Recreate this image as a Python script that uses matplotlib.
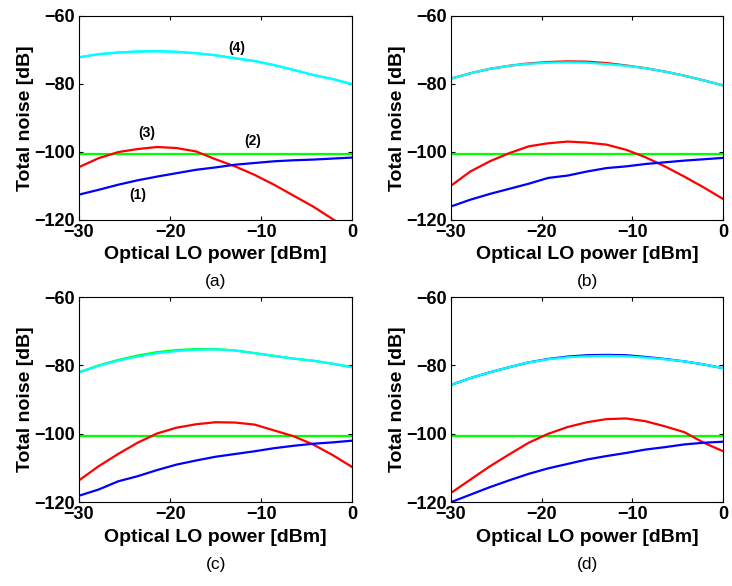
import matplotlib
matplotlib.use('Agg')
import matplotlib.pyplot as plt

plt.rcParams['font.family'] = ['Liberation Sans', 'DejaVu Sans']

# LO power points (dBm)
lo_power = [-30, -27.86, -25.71, -23.57, -21.43, -19.29, -17.14, -15,
            -12.86, -10.71, -8.57, -6.43, -4.29, -2.14, 0]

# (1) blue, (2) green (constant), (3) red, (4) cyan, plus the total curve hidden under cyan
blue_a = [-112.6, -111.2, -109.7, -108.4, -107.3, -106.3, -105.3, -104.6,
          -103.8, -103.3, -102.8, -102.5, -102.3, -102.0, -101.7]
green_a = [-100.6] * 15
red_a = [-104.5, -101.9, -100.1, -99.2, -98.6, -98.9, -99.9, -102.2,
         -104.3, -106.8, -109.7, -112.9, -116.1, -119.8, -123.4]
cyan_a = [-72.2, -71.3, -70.8, -70.5, -70.4, -70.6, -71.0, -71.6,
          -72.5, -73.3, -74.5, -75.9, -77.4, -78.6, -80.1]
total_a = cyan_a

blue_b = [-116.1, -114.1, -112.4, -110.9, -109.4, -107.7, -107.0, -105.8,
          -104.8, -104.3, -103.6, -103.1, -102.6, -102.2, -101.8]
green_b = [-100.6] * 15
red_b = [-110.0, -105.8, -102.8, -100.4, -98.4, -97.5, -97.0, -97.3,
         -97.9, -99.4, -101.6, -104.3, -107.3, -110.5, -113.9]
cyan_b = [-78.5, -76.9, -75.6, -74.7, -74.1, -73.8, -73.7, -73.8,
          -74.2, -74.7, -75.4, -76.4, -77.6, -79.0, -80.5]
total_b = [-78.5, -76.9, -75.6, -74.7, -74.0, -73.6, -73.4, -73.5,
           -73.9, -74.6, -75.4, -76.4, -77.6, -79.0, -80.5]

blue_c = [-118.1, -116.3, -113.9, -112.4, -110.6, -109.0, -107.8, -106.7,
          -105.9, -105.1, -104.2, -103.5, -102.9, -102.5, -102.0]
green_c = [-100.6] * 15
red_c = [-113.6, -109.5, -105.9, -102.6, -99.9, -98.2, -97.2, -96.6,
         -96.7, -97.3, -99.0, -100.7, -103.1, -106.2, -109.7]
cyan_c = [-82.0, -80.1, -78.6, -77.4, -76.4, -75.8, -75.4, -75.3,
          -75.6, -76.4, -77.2, -78.0, -78.6, -79.5, -80.5]
total_c = [-82.0, -80.0, -78.4, -77.1, -76.1, -75.5, -75.2, -75.2,
           -75.6, -76.4, -77.2, -78.0, -78.6, -79.5, -80.5]

blue_d = [-120.0, -117.8, -115.6, -113.6, -111.7, -110.1, -108.8, -107.5,
          -106.5, -105.6, -104.6, -103.9, -103.1, -102.6, -102.3]
green_d = [-100.6] * 15
red_d = [-117.3, -113.4, -109.5, -106.0, -102.6, -100.0, -98.0, -96.6,
         -95.7, -95.5, -96.3, -97.8, -99.5, -102.6, -105.1]
cyan_d = [-85.7, -83.7, -82.0, -80.5, -79.1, -78.2, -77.6, -77.3,
          -77.2, -77.3, -77.7, -78.2, -78.8, -79.7, -80.8]
total_d = [-85.7, -83.7, -82.0, -80.5, -79.1, -78.1, -77.4, -77.0,
           -76.9, -77.0, -77.5, -78.1, -78.8, -79.7, -80.8]

CYAN = '#00FFFF'
GREEN = '#00FF00'
RED = '#FF0000'
BLUE = '#0000FF'

panels = [
    ('(a)', blue_a, green_a, red_a, cyan_a, total_a, CYAN),
    ('(b)', blue_b, green_b, red_b, cyan_b, total_b, RED),
    ('(c)', blue_c, green_c, red_c, cyan_c, total_c, GREEN),
    ('(d)', blue_d, green_d, red_d, cyan_d, total_d, BLUE),
]

fig = plt.figure(figsize=(7.32, 5.86), dpi=100)
rects = [
    [0.108, 0.625, 0.373, 0.348],
    [0.616, 0.625, 0.372, 0.348],
    [0.108, 0.143, 0.373, 0.350],
    [0.616, 0.143, 0.372, 0.350],
]

for rect, (name, blue, green, red, cyan, total, tcol) in zip(rects, panels):
    ax = fig.add_axes(rect)
    lw = 1.6
    ax.plot(lo_power, green, color=GREEN, lw=lw)
    ax.plot(lo_power, red, color=RED, lw=lw)
    ax.plot(lo_power, blue, color=BLUE, lw=lw)
    ax.plot(lo_power, total, color=tcol, lw=lw)
    ax.plot(lo_power, cyan, color=CYAN, lw=lw)
    ax.set_xlim(-30, 0)
    ax.set_ylim(-120, -60)
    ax.set_xticks([-30, -20, -10, 0])
    ax.set_yticks([-120, -100, -80, -60])
    ax.tick_params(direction='in', top=True, right=True, labelsize=13, length=3, pad=3)
    for lab in ax.get_xticklabels() + ax.get_yticklabels():
        lab.set_fontweight('bold')
    ax.set_xlabel('Optical LO power [dBm]', fontsize=14, fontweight='bold', labelpad=4)
    ax.set_ylabel('Total noise [dB]', fontsize=14, fontweight='bold', labelpad=0)
    ax.text(0.5, -0.265, name, transform=ax.transAxes, ha='center', va='top', fontsize=12.5)
    if name == '(a)':
        ax.text(-12.7, -69.4, '(4)', fontsize=10, fontweight='bold', ha='center', va='center')
        ax.text(-22.6, -94.4, '(3)', fontsize=10, fontweight='bold', ha='center', va='center')
        ax.text(-10.9, -96.7, '(2)', fontsize=10, fontweight='bold', ha='center', va='center')
        ax.text(-23.5, -112.6, '(1)', fontsize=10, fontweight='bold', ha='center', va='center')

fig.savefig('out.png', dpi=100)
